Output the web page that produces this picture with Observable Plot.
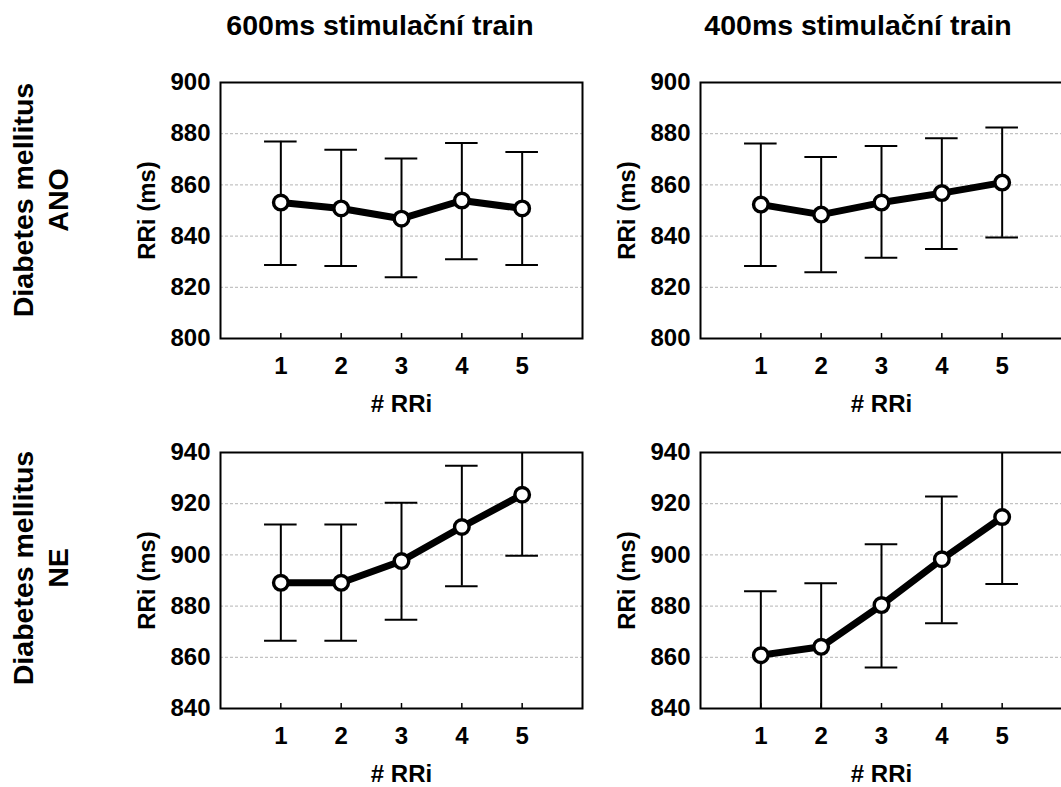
<!DOCTYPE html>
<html><head><meta charset="utf-8">
<script src="https://cdn.jsdelivr.net/npm/d3@7"></script>
<script src="https://cdn.jsdelivr.net/npm/@observablehq/plot@0.6"></script>
<style>
html,body{margin:0;padding:0;background:#fff;overflow:hidden;}
#fig{position:relative;width:1061px;height:787px;overflow:hidden;font-family:"Liberation Sans",Arial,sans-serif;font-weight:bold;color:#000;background:#fff;}
.panel{position:absolute;width:472px;height:348px;}
.panel svg{max-width:none !important;display:block;}
.coltitle{position:absolute;font-size:28.5px;line-height:28px;white-space:nowrap;transform:translateX(-50%);}
.rowlabel{position:absolute;font-size:28.5px;line-height:35px;text-align:center;white-space:nowrap;transform:translate(-50%,-50%) rotate(-90deg);}
</style></head>
<body>
<div id="fig"></div>
<script>
// ---- data ----
const colTitles = ["600ms stimulační train", "400ms stimulační train"];
const rowLabels = [["Diabetes mellitus", "ANO"], ["Diabetes mellitus", "NE"]];
const yLabel = "RRi (ms)";
const xLabel = "# RRi";
const rri = [1, 2, 3, 4, 5];
const xTicks = [1, 2, 3, 4, 5];
const xDomain = [0, 6];
const yTicksAno = [800, 820, 840, 860, 880, 900];
const yTicksNe = [840, 860, 880, 900, 920, 940];

// 600 ms, DM ANO
const mean600Ano = [853.1, 850.8, 846.8, 853.9, 850.8];
const lo600Ano   = [828.7, 828.3, 823.9, 831.0, 828.7];
const hi600Ano   = [877.0, 873.7, 870.3, 876.4, 872.9];
// 400 ms, DM ANO
const mean400Ano = [852.3, 848.4, 853.1, 856.8, 860.9];
const lo400Ano   = [828.3, 825.9, 831.5, 835.0, 839.5];
const hi400Ano   = [876.2, 870.9, 875.2, 878.2, 882.4];
// 600 ms, DM NE
const mean600Ne = [889.1, 889.1, 897.6, 910.9, 923.5];
const lo600Ne   = [866.5, 866.5, 874.7, 887.8, 899.7];
const hi600Ne   = [911.9, 911.9, 920.4, 934.8, 947.3];
// 400 ms, DM NE
const mean400Ne = [860.8, 864.1, 880.4, 898.3, 914.8];
const lo400Ne   = [835.8, 839.3, 856.0, 873.3, 888.6];
const hi400Ne   = [885.8, 888.9, 904.2, 922.8, 941.0];

const FONT = '"Liberation Sans", Arial, sans-serif';
const capHalf = 0.27;
const FS = 24;

function panel(means, los, his, yTicks) {
  const rows = rri.map((r, i) => ({x: r, y: means[i], lo: los[i], hi: his[i]}));
  const yDomain = [yTicks[0], yTicks[yTicks.length - 1]];
  const grid = yTicks.filter(t => t > yDomain[0] && t < yDomain[1]);
  return Plot.plot({
    width: 472, height: 348,
    marginLeft: 100, marginRight: 10, marginTop: 12, marginBottom: 80,
    style: {fontFamily: FONT, fontWeight: "bold", fontSize: FS + "px", color: "#000", background: "transparent", overflow: "visible"},
    x: {domain: xDomain},
    y: {domain: yDomain},
    marks: [
      Plot.gridY(grid, {stroke: "#b4b4b4", strokeOpacity: 1, strokeWidth: 1, strokeDasharray: "3,2"}),
      Plot.ruleX(rows, {x: "x", y1: "lo", y2: "hi", stroke: "#000", strokeWidth: 2, clip: true}),
      Plot.ruleY(rows, {y: "lo", x1: d => d.x - capHalf, x2: d => d.x + capHalf, stroke: "#000", strokeWidth: 2, clip: true}),
      Plot.ruleY(rows, {y: "hi", x1: d => d.x - capHalf, x2: d => d.x + capHalf, stroke: "#000", strokeWidth: 2, clip: true}),
      Plot.line(rows, {x: "x", y: "y", stroke: "#000", strokeWidth: 7}),
      Plot.dot(rows, {x: "x", y: "y", r: 7.3, fill: "#fff", stroke: "#000", strokeWidth: 3.4}),
      Plot.frame({stroke: "#000", strokeWidth: 2}),
      Plot.axisY(yTicks, {tickSize: 0, tickPadding: 10, label: null, fontSize: FS, fontWeight: "bold", fill: "#000"}),
      Plot.axisX(xTicks, {tickSize: -5, tickPadding: 23, label: null, fontSize: FS, fontWeight: "bold", fill: "#000", stroke: "#000", strokeWidth: 1.5}),
      Plot.text([yLabel], {frameAnchor: "left", dx: -73, rotate: -90, textAnchor: "middle", lineAnchor: "middle", text: d => d, fontSize: FS, fontWeight: "bold", fill: "#000"}),
      Plot.text([xLabel], {frameAnchor: "bottom", dy: 66, textAnchor: "middle", lineAnchor: "middle", text: d => d, fontSize: FS, fontWeight: "bold", fill: "#000"})
    ]
  });
}

const fig = document.getElementById("fig");
const layout = [
  {m: mean600Ano, lo: lo600Ano, hi: hi600Ano, t: yTicksAno, left: 120, top: 70},
  {m: mean400Ano, lo: lo400Ano, hi: hi400Ano, t: yTicksAno, left: 600, top: 70},
  {m: mean600Ne, lo: lo600Ne, hi: hi600Ne, t: yTicksNe, left: 120, top: 440},
  {m: mean400Ne, lo: lo400Ne, hi: hi400Ne, t: yTicksNe, left: 600, top: 440}
];
for (const p of layout) {
  const svg = panel(p.m, p.lo, p.hi, p.t);
  const wrap = document.createElement("div");
  wrap.className = "panel";
  wrap.style.left = p.left + "px";
  wrap.style.top = p.top + "px";
  wrap.appendChild(svg);
  fig.appendChild(wrap);
}
const titleX = [380, 858];
colTitles.forEach((t, i) => {
  const d = document.createElement("div");
  d.className = "coltitle";
  d.style.left = titleX[i] + "px";
  d.style.top = "11px";
  d.textContent = t;
  fig.appendChild(d);
});
const rowY = [200, 568];
rowLabels.forEach((lines, i) => {
  const d = document.createElement("div");
  d.className = "rowlabel";
  d.style.left = "41px";
  d.style.top = rowY[i] + "px";
  d.innerHTML = lines.join("<br>");
  fig.appendChild(d);
});
</script>
</body></html>
